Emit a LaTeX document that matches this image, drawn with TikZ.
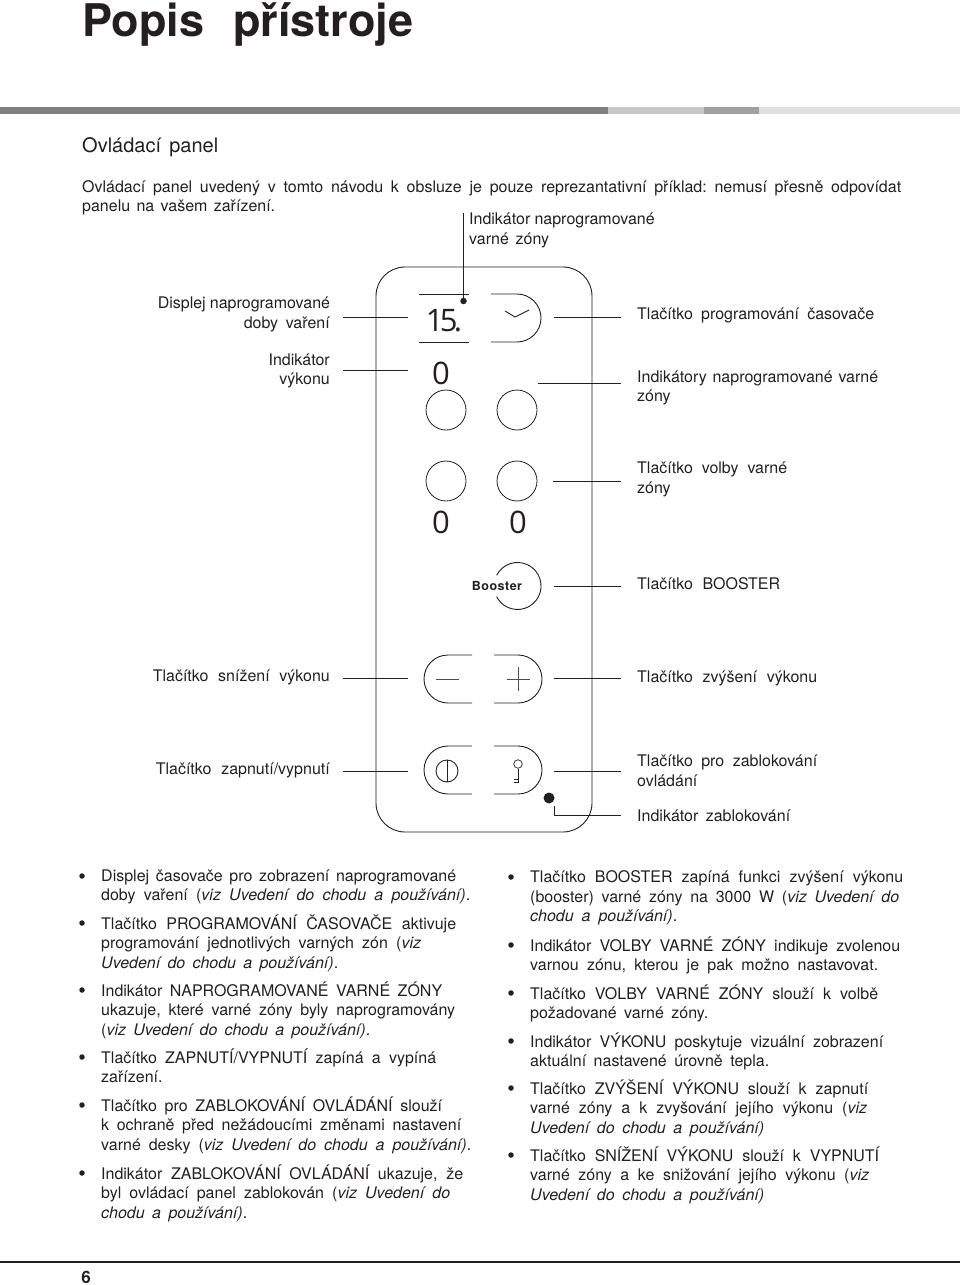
\documentclass[tikz,border=0pt]{standalone}
\usepackage{fontspec}
\setmainfont[WordSpace=1.4]{TeX Gyre Heros}
\newfontfamily\dialfont{Open Sans}
\usetikzlibrary{positioning,calc}
\definecolor{inkGray}{RGB}{35,31,32}
\definecolor{barDark}{RGB}{128,128,132}
\definecolor{barLight}{RGB}{200,200,200}
\definecolor{barMid}{RGB}{160,160,164}
\definecolor{barPale}{RGB}{224,224,224}
\newcommand{\fitline}[2]{\makebox[#1pt][s]{#2}}
\tikzset{
  body text/.style={anchor=north west,inner sep=0pt,align=left,text=inkGray,font=\fontsize{16}{19.4}\selectfont\frenchspacing,execute at begin node=\strut},
  label left/.style={anchor=east,inner sep=0pt,align=right,text=inkGray,font=\fontsize{16}{19.8}\selectfont},
  label right/.style={anchor=west,inner sep=0pt,align=left,text=inkGray,font=\fontsize{16}{19.8}\selectfont},
  dial/.style={inner sep=0pt,text=inkGray,font=\dialfont\fontsize{31}{31}\selectfont},
  ring/.style={circle,draw=inkGray,line width=.8pt,inner sep=0pt,minimum size=40pt},
  blob/.style={circle,fill=inkGray,inner sep=0pt},
  tick dot/.style={circle,fill=inkGray,inner sep=0pt,minimum size=6.5pt},
  outline/.style={draw=inkGray,line width=.9pt},
  leader/.style={draw=inkGray,line width=.9pt},
  leader left/.style={leader,shorten <=13pt},
  leader right/.style={leader,shorten >=16pt}
}
\begin{document}
\begin{tikzpicture}[x=1pt,y=-1pt]
  \useasboundingbox (0,0) rectangle (960,1285);
  % heading
  \node[anchor=base west,inner sep=0pt,text=inkGray,font=\fontsize{45}{45}\bfseries\selectfont] (title) at (82,36.5) {\fitline{331}{Popis přístroje}};
  \foreach \xa/\xb/\barcol in {0/608/barDark,608/704/barLight,704/759/barMid,759/960/barPale}
    \fill[\barcol] (\xa,107) rectangle (\xb,114);
  \node[anchor=base west,inner sep=0pt,text=inkGray,font=\fontsize{20}{20}\selectfont] (section) at (82,152) {\fitline{136}{Ovládací panel}};
  \node[body text] (intro) at (82,180) {\fitline{819}{Ovládací panel uvedený v tomto návodu k obsluze je pouze reprezantativní příklad: nemusí přesně odpovídat}\\\fitline{193}{panelu na vašem zařízení.}};
  % panel
  \node[outline,rounded corners=29pt,minimum width=216pt,minimum height=565pt,inner sep=0pt] (panel) at (484,549.5) {};
  \node[dial] (dispTime) at (444,321) {\addfontfeature{LetterSpace=-12}15.};
  \node[dial] (zeroA) at (441,373) {0};
  \node[dial] (zeroB) at (441,522) {0};
  \node[dial] (zeroC) at (518,522) {0};
  \node[ring] (ringA) at (446,410) {};
  \node[ring] (ringB) at (517,410) {};
  \node[ring] (ringC) at (446,481) {};
  \node[ring] (ringD) at (517,481) {};
  \node[tick dot] (progDot) at (463.5,301) {};
  \node[blob,minimum size=11pt] (lockDot) at (549,798) {};
  \draw[outline] (419,294) -- (469,294) (419,342) -- (469,342);
  \draw[outline] (491,294) -- (517,294) arc[start angle=90,end angle=-90,radius=24pt] -- (491,342);
  \draw[outline] (505,311) -- (515,317) -- (529,310);
  \draw[outline] (496.6,575.3) arc[start angle=153,end angle=-153,radius=23.5pt];
  \node[inner sep=0pt,text=inkGray,font=\fontsize{12.5}{12.5}\bfseries\selectfont\addfontfeature{LetterSpace=4}] (booster) at (497,586) {Booster};
  \draw[outline] (472,655) -- (448,655) arc[start angle=90,end angle=270,radius=24pt] -- (472,703);
  \draw[outline] (494,655) -- (518,655) arc[start angle=90,end angle=-90,radius=24pt] -- (494,703);
  \draw[outline] (472,746) -- (448,746) arc[start angle=90,end angle=270,radius=24pt] -- (472,794);
  \draw[outline] (494,746) -- (518,746) arc[start angle=90,end angle=-90,radius=24pt] -- (494,794);
  \draw[outline,draw=inkGray!80] (436,679) -- (459,679);
  \draw[outline,draw=inkGray!80] (507,679) -- (530,679) (518,667) -- (518,691);
  \node[circle,outline,inner sep=0pt,minimum size=22pt] (power) at (447,771) {};
  \draw[outline] (power.north) -- (power.south);
  \node[circle,outline,line width=.7pt,inner sep=0pt,minimum size=8.5pt] (keyHead) at (518,764) {};
  \draw[outline,line width=.7pt] (keyHead.south) -- (518,782) -- (514,782) (518,779) -- (514,779);
  % labels
  \node[label right,anchor=north west] (lblProg) at (469,213) {\fitline{185}{Indikátor naprogramované}\\\fitline{80}{varné zóny}};
  \node[label left] (lblDisplay) at (330,314.5) {\fitline{172}{Displej naprogramované}\\\fitline{86}{doby vaření}};
  \node[label left] (lblPower) at (330,371) {Indikátor\\výkonu};
  \node[label left] (lblDown) at (330,677) {\fitline{177}{Tlačítko snížení výkonu}};
  \node[label left] (lblOnOff) at (330,770) {\fitline{174}{Tlačítko zapnutí/vypnutí}};
  \node[label right] (lblTimer) at (637,315) {\fitline{237}{Tlačítko programování časovače}};
  \node[label right] (lblZones) at (637,388) {\fitline{241}{Indikátory naprogramované varné}\\zóny};
  \node[label right] (lblSelect) at (637,479) {\fitline{150}{Tlačítko volby varné}\\zóny};
  \node[label right] (lblBooster) at (637,584) {\fitline{143}{Tlačítko BOOSTER}};
  \node[label right] (lblUp) at (637,678.5) {\fitline{180}{Tlačítko zvýšení výkonu}};
  \node[label right] (lblLock) at (637,771) {\fitline{180}{Tlačítko pro zablokování}\\ovládání};
  \node[label right] (lblLockDot) at (637,815.5) {\fitline{153}{Indikátor zablokování}};
  % leaders
  \coordinate (progTop) at (463.5,213);
  \coordinate (dispEnd) at (408,317);
  \coordinate (powerEnd) at (408,370);
  \coordinate (downEnd) at (408,678);
  \coordinate (onOffEnd) at (408,771);
  \coordinate (timerEnd) at (554,317);
  \coordinate (zonesEnd) at (538,383);
  \coordinate (selectEnd) at (553,481);
  \coordinate (boosterEnd) at (554,586);
  \coordinate (upEnd) at (554,678);
  \coordinate (lockEnd) at (554,771);
  \coordinate (lockDotEnd) at (554,806);
  \coordinate (lockDotTurn) at (554,815);
  \draw[leader] (progTop) -- (progDot);
  \draw[leader left] (lblDisplay.east |- dispEnd) -- (dispEnd);
  \draw[leader left] (lblPower.east |- powerEnd) -- (powerEnd);
  \draw[leader left] (lblDown.east |- downEnd) -- (downEnd);
  \draw[leader left] (lblOnOff.east |- onOffEnd) -- (onOffEnd);
  \draw[leader right] (timerEnd) -- (lblTimer.west |- timerEnd);
  \draw[leader right] (zonesEnd) -- (lblZones.west |- zonesEnd);
  \draw[leader right] (selectEnd) -- (lblSelect.west |- selectEnd);
  \draw[leader right] (boosterEnd) -- (lblBooster.west |- boosterEnd);
  \draw[leader right] (upEnd) -- (lblUp.west |- upEnd);
  \draw[leader right] (lockEnd) -- (lblLock.west |- lockEnd);
  \draw[leader right] (lockDotEnd) -- (lockDotTurn) -- (lblLockDot.west |- lockDotTurn);
  % bullets
  \foreach \bx/\by/\bname in {82/876/a,82/923/b,82/990/c,82/1057/d,82/1105/e,82/1173/f,511/877/g,511/945/h,511/993/i,511/1041/j,511/1088/k,511/1155/l}
    \node[blob,minimum size=5.5pt] (bullet\bname) at (\bx,\by) {};
  % left column
  \node[body text] (itemA) at (101,869.5) {\fitline{355}{Displej časovače pro zobrazení naprogramované}\\\fitline{369}{doby vaření (\textit{viz Uvedení do chodu a používání)}.}};
  \node[body text] (itemB) at (101,914.5) {\fitline{355}{Tlačítko PROGRAMOVÁNÍ ČASOVAČE aktivuje}\\\fitline{320}{programování jednotlivých varných zón (\textit{viz}}\\\fitline{237}{\textit{Uvedení do chodu a používání)}.}};
  \node[body text] (itemC) at (101,981.5) {\fitline{341}{Indikátor NAPROGRAMOVANÉ VARNÉ ZÓNY}\\\fitline{354}{ukazuje, které varné zóny byly naprogramovány}\\\fitline{269}{(\textit{viz Uvedení do chodu a používání)}.}};
  \node[body text] (itemD) at (101,1048.5) {\fitline{335}{Tlačítko ZAPNUTÍ/VYPNUTÍ zapíná a vypíná}\\zařízení.};
  \node[body text] (itemE) at (101,1096.5) {\fitline{341}{Tlačítko pro ZABLOKOVÁNÍ OVLÁDÁNÍ slouží}\\\fitline{360}{k ochraně před nežádoucími změnami nastavení}\\\fitline{370}{varné desky (\textit{viz Uvedení do chodu a používání)}.}};
  \node[body text] (itemF) at (101,1164.5) {\fitline{362}{Indikátor ZABLOKOVÁNÍ OVLÁDÁNÍ ukazuje, že}\\\fitline{349}{byl ovládací panel zablokován (\textit{viz Uvedení do}}\\\fitline{146}{\textit{chodu a používání)}.}};
  % right column
  \node[body text] (itemG) at (530,870.5) {\fitline{373}{Tlačítko BOOSTER zapíná funkci zvýšení výkonu}\\\fitline{369}{(booster) varné zóny na 3000 W (\textit{viz Uvedení do}}\\\fitline{147}{\textit{chodu a používání)}.}};
  \node[body text] (itemH) at (530,936.5) {\fitline{370}{Indikátor VOLBY VARNÉ ZÓNY indikuje zvolenou}\\\fitline{348}{varnou zónu, kterou je pak možno nastavovat.}};
  \node[body text] (itemI) at (530,984.5) {\fitline{348}{Tlačítko VOLBY VARNÉ ZÓNY slouží k volbě}\\\fitline{178}{požadované varné zóny.}};
  \node[body text] (itemJ) at (530,1032.5) {\fitline{353}{Indikátor VÝKONU poskytuje vizuální zobrazení}\\\fitline{239}{aktuální nastavené úrovně tepla.}};
  \node[body text] (itemK) at (530,1079.5) {\fitline{338}{Tlačítko ZVÝŠENÍ VÝKONU slouží k zapnutí}\\\fitline{337}{varné zóny a k zvyšování jejího výkonu (\textit{viz}}\\\fitline{234}{\textit{Uvedení do chodu a používání)}}};
  \node[body text] (itemL) at (530,1146.5) {\fitline{349}{Tlačítko SNÍŽENÍ VÝKONU slouží k VYPNUTÍ}\\\fitline{339}{varné zóny a ke snižování jejího výkonu (\textit{viz}}\\\fitline{234}{\textit{Uvedení do chodu a používání)}}};
  % footer
  \draw[draw=inkGray,line width=2pt] (0,1262) -- (960,1262);
  \node[inner sep=0pt,text=inkGray,font=\fontsize{17}{17}\bfseries\selectfont] (pageNo) at (86,1277.5) {6};
\end{tikzpicture}
\end{document}
